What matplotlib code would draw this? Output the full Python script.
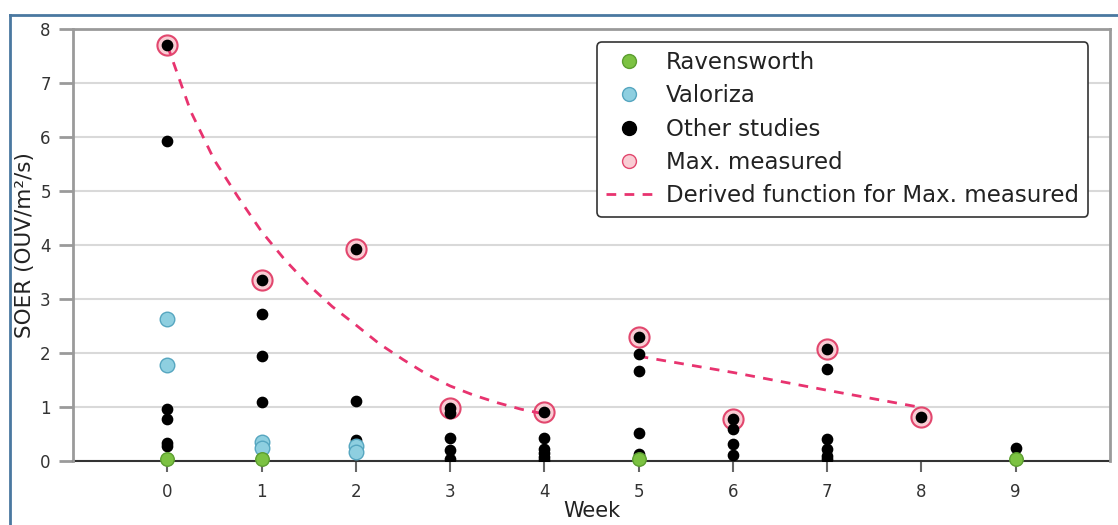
import matplotlib
matplotlib.use("Agg")
import matplotlib.pyplot as plt
from matplotlib.lines import Line2D

plt.rcParams['font.family'] = ['DejaVu Sans']

# SOER values (OUV/m2/s), per week
weeks = list(range(10))
ticks_x = list(range(10))

other_by_week = [
    [7.70, 5.92, 0.97, 0.77, 0.33, 0.28],
    [3.36, 2.72, 1.95, 1.10],
    [3.93, 1.12, 0.39, 0.30],
    [0.99, 0.88, 0.43, 0.20, 0.04],
    [0.90, 0.42, 0.22, 0.14, 0.08, 0.02],
    [2.29, 1.99, 1.67, 0.52, 0.13],
    [0.77, 0.60, 0.31, 0.11],
    [2.07, 1.70, 0.41, 0.22, 0.10, 0.03],
    [0.81],
    [0.25],
]

valoriza_week = [0, 0, 1, 1, 2, 2]
valoriza_soer = [2.63, 1.77, 0.36, 0.25, 0.27, 0.17]

ravens_week = [0, 1, 5, 9]
ravens_soer = [0.03, 0.03, 0.03, 0.03]

max_week = [0, 1, 2, 3, 4, 5, 6, 7, 8]
max_soer = [7.70, 3.36, 3.93, 0.99, 0.90, 2.29, 0.77, 2.07, 0.81]

# derived function, two pieces
fit1_week = [0, 0.25, 0.5, 0.75, 1, 1.25, 1.5, 1.75, 2, 2.25, 2.5, 2.75, 3,
             3.25, 3.5, 3.75, 4]
fit1_soer = [7.70, 6.47, 5.57, 4.89, 4.25, 3.72, 3.26, 2.86, 2.52, 2.17,
             1.88, 1.61, 1.39, 1.22, 1.08, 0.96, 0.87]
fit2_week = [5, 6, 7, 8]
fit2_soer = [1.94, 1.64, 1.31, 0.99]

green = '#7cc242'
green_edge = '#5c9e30'
blue = '#8ecfe0'
blue_edge = '#56a6c0'
pink_fill = '#f9cdd4'
pink_edge = '#e2476e'
dash_col = '#e8336f'

fig = plt.figure(figsize=(11.18, 5.25), dpi=100)
ax = fig.add_axes([0.0653, 0.1219, 0.9275, 0.8229])

ax.set_xlim(-1, 10)
ax.set_ylim(0, 8)
ax.set_yticks(range(9))
ax.set_xticks(ticks_x)
ax.grid(axis='y', color='#d9d9d9', lw=1.5, zorder=0)
ax.set_axisbelow(True)

for s in ['left', 'top', 'right']:
    ax.spines[s].set_color('#9a9a9a')
    ax.spines[s].set_linewidth(2)
ax.spines['bottom'].set_color('#333333')
ax.spines['bottom'].set_linewidth(1.5)
ax.spines['bottom'].set_zorder(2)

ax.tick_params(axis='y', direction='out', length=10, width=2, color='#9a9a9a',
               labelsize=12, labelcolor='#333333', pad=6)
ax.tick_params(axis='x', direction='out', length=8, width=1.5, color='#666666',
               labelsize=12, labelcolor='#333333', pad=8)

# max measured rings
ax.scatter(max_week, max_soer, s=210, facecolor=pink_fill, edgecolor=pink_edge,
           linewidth=1.5, zorder=3)

# derived function
ax.plot(fit1_week, fit1_soer, color=dash_col, lw=2, dashes=(3.5, 3), zorder=3)
ax.plot(fit2_week, fit2_soer, color=dash_col, lw=2, dashes=(3.5, 3), zorder=3)

# other studies
ox = [w for w, vals in zip(weeks, other_by_week) for _ in vals]
oy = [v for vals in other_by_week for v in vals]
ax.scatter(ox, oy, s=55, color='black', zorder=4)

ax.scatter(valoriza_week, valoriza_soer, s=110, facecolor=blue,
           edgecolor=blue_edge, linewidth=1, zorder=5)
ax.scatter(ravens_week, ravens_soer, s=95, facecolor=green,
           edgecolor=green_edge, linewidth=1, zorder=6, clip_on=False)

ax.set_ylabel('SOER (OUV/m²/s)', fontsize=15.5, color='#222222', labelpad=4)
ax.set_xlabel('Week', fontsize=15, color='#222222', labelpad=0)

handles = [
    Line2D([], [], ls='none', marker='o', ms=10, mfc=green, mec=green_edge),
    Line2D([], [], ls='none', marker='o', ms=10, mfc=blue, mec=blue_edge),
    Line2D([], [], ls='none', marker='o', ms=10, mfc='black', mec='black'),
    Line2D([], [], ls='none', marker='o', ms=10, mfc=pink_fill, mec=pink_edge),
    Line2D([], [], color=dash_col, lw=2, dashes=(3.5, 3)),
]
labels = ['Ravensworth', 'Valoriza', 'Other studies', 'Max. measured',
          'Derived function for Max. measured']
leg = ax.legend(handles, labels, loc='upper right', bbox_to_anchor=(0.979, 0.970),
                borderaxespad=0, fontsize=16.5, frameon=True, fancybox=True,
                edgecolor='#333333', framealpha=1, labelspacing=0.45,
                handlelength=2.0, handletextpad=0.6, borderpad=0.4)
leg.get_frame().set_linewidth(1.2)
for t in leg.get_texts():
    t.set_color('#222222')

# outer frame of the figure (top and left edge)
fig.add_artist(Line2D([10 / 1118, 1], [1 - 15 / 525, 1 - 15 / 525],
                      transform=fig.transFigure, color='#4a78a0', lw=2))
fig.add_artist(Line2D([10 / 1118, 10 / 1118], [0, 1 - 15 / 525],
                      transform=fig.transFigure, color='#4a78a0', lw=2))

fig.savefig('out.png', dpi=100)
